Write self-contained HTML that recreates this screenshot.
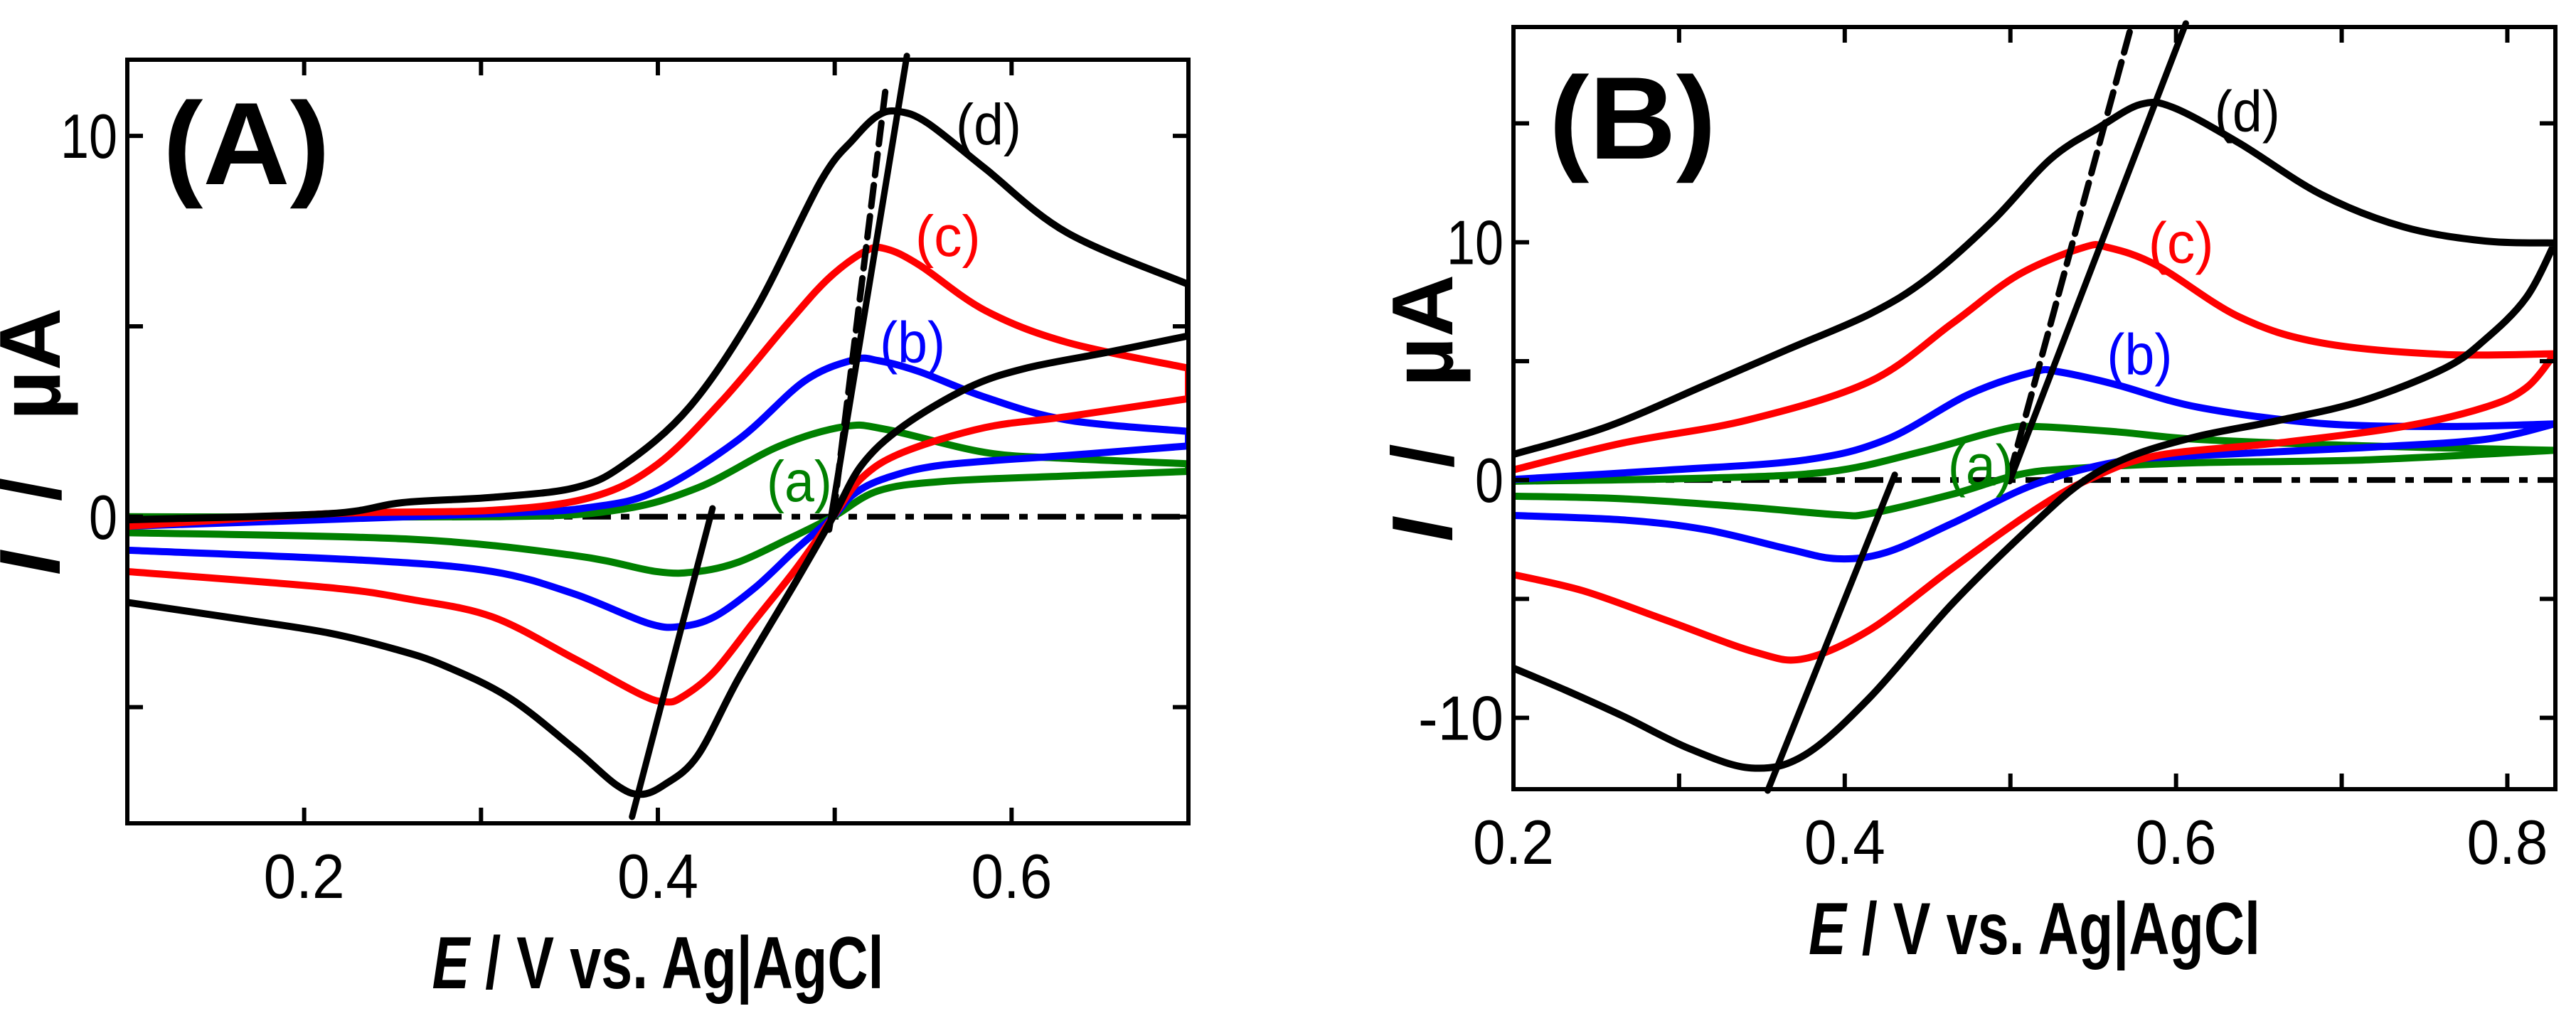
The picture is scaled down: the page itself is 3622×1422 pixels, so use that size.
<!DOCTYPE html>
<html><head><meta charset="utf-8">
<style>
html,body{margin:0;padding:0;background:#fff;}
svg{display:block;}
text{font-family:"Liberation Sans",Arial,sans-serif;}
</style></head>
<body>
<svg id="chart" width="3622" height="1422" viewBox="0 0 3622 1422" xmlns="http://www.w3.org/2000/svg"></svg>
<script>
// ---------- Panel A data ----------
const aD_fwdE=[0.1,0.2137,0.2554,0.3065,0.3529,0.3807,0.4179,0.455,0.4921,0.5107,0.5246,0.5362,0.5524,0.5849,0.6313,0.7];
const aD_fwdI=[-0.08,0.08,0.37,0.51,0.76,1.36,2.88,5.42,8.81,9.92,10.54,10.64,10.34,9.15,7.46,6.1];
const aD_revE=[0.7,0.6545,0.6081,0.5756,0.5385,0.5153,0.4991,0.4782,0.4457,0.4225,0.4039,0.39,0.3761,0.3529,0.3158,0.2787,0.2508,0.2137,0.1673,0.1];
const aD_revI=[4.75,4.32,3.9,3.39,2.37,1.36,0,-1.69,-4.24,-6.27,-7.03,-7.29,-7.03,-6.1,-4.75,-3.9,-3.47,-3.05,-2.71,-2.25];
const aC_fwdE=[0.1,0.2137,0.3065,0.3622,0.3993,0.4364,0.4735,0.4968,0.5176,0.5292,0.5478,0.5849,0.6313,0.7];
const aC_fwdI=[-0.25,0.08,0.17,0.51,1.36,3.05,5.08,6.27,6.98,7.03,6.61,5.42,4.58,3.9];
const aC_revE=[0.7,0.6313,0.5849,0.5385,0.5153,0.4991,0.4782,0.455,0.4318,0.4132,0.4039,0.39,0.3529,0.3065,0.2601,0.2137,0.1];
const aC_revI=[3.1,2.63,2.34,1.69,1.02,0,-1.36,-2.71,-4.07,-4.75,-4.86,-4.66,-3.73,-2.63,-2.17,-1.86,-1.44];
const aB_fwdE=[0.1,0.3065,0.3622,0.3993,0.4457,0.4828,0.5107,0.5246,0.5478,0.5849,0.6313,0.7];
const aB_fwdI=[-0.25,0.08,0.25,0.68,2.03,3.56,4.12,4.1,3.81,3.14,2.54,2.24];
const aB_revE=[0.7,0.6313,0.5617,0.5292,0.5107,0.4991,0.4782,0.455,0.4318,0.4132,0.3947,0.3529,0.3065,0.2369,0.1];
const aB_revI=[1.86,1.61,1.36,1.02,0.59,0,-0.85,-1.86,-2.63,-2.88,-2.8,-2.03,-1.44,-1.15,-0.88];
const aA_fwdE=[0.1,0.3065,0.3761,0.4225,0.4689,0.506,0.5292,0.5849,0.6313,0.7];
const aA_fwdI=[0,0,0.17,0.76,1.86,2.37,2.29,1.69,1.53,1.39];
const aA_revE=[0.7,0.6313,0.5617,0.5246,0.4991,0.4735,0.4457,0.4225,0.3993,0.3529,0.2601,0.1];
const aA_revI=[1.19,1.07,0.93,0.68,0,-0.59,-1.19,-1.44,-1.44,-1.02,-0.59,-0.42];
const aTanCathE=[0.3854,0.4309], aTanCathI=[-7.88,0.22];
const aTanAnoE=[0.4968,0.5408], aTanAnoI=[-0.34,12.1];
const aTanDashE=[0.4991,0.5292], aTanDashI=[0,11.4];
const aXTicks=[0.1,0.2,0.3,0.4,0.5,0.6,0.7];
const aXLabels=["0.2","0.4","0.6"], aXLabelVals=[0.2,0.4,0.6];
const aYTicks=[-5,0,5,10];
const aYLabels=["0","10"], aYLabelVals=[0,10];
const aCurveLabels=["(a)","(b)","(c)","(d)"];
const aCurveLabelE=[0.48,0.544,0.564,0.587], aCurveLabelI=[0.93,4.58,7.37,10.3];

// ---------- Panel B data ----------
const bD_fwdE=[0.2,0.2569,0.3163,0.3658,0.4153,0.45,0.4896,0.5243,0.554,0.5787,0.5985,0.6381,0.6876,0.7371,0.7866,0.8287];
const bD_fwdI=[1.08,2.25,4.01,5.5,6.99,8.48,10.92,13.5,14.85,15.8,15.66,14.17,12.01,10.65,10.05,9.97];
const bD_revE=[0.8287,0.8114,0.7866,0.7619,0.7124,0.6629,0.6134,0.5738,0.5441,0.5144,0.4649,0.4153,0.3757,0.3436,0.3064,0.2668,0.2322,0.2];
const bD_revI=[9.97,7.67,5.91,4.69,3.33,2.52,1.84,1.03,-0.05,-1.82,-5.2,-9.13,-11.57,-12.11,-11.3,-9.95,-8.86,-7.91];
const bC_fwdE=[0.2,0.2668,0.3411,0.4153,0.4649,0.5045,0.5441,0.5589,0.5886,0.6381,0.6876,0.7619,0.8287];
const bC_fwdI=[0.43,1.57,2.52,4.15,6.59,8.62,9.78,9.78,9.02,6.86,5.77,5.28,5.31];
const bC_revE=[0.8287,0.8114,0.7866,0.7371,0.6629,0.5886,0.549,0.5144,0.4649,0.4153,0.3757,0.346,0.2916,0.2421,0.2];
const bC_revI=[5.31,3.88,3.06,2.25,1.57,1.03,0.08,-1.27,-3.71,-6.29,-7.51,-7.24,-5.88,-4.66,-3.98];
const bB_fwdE=[0.2,0.2916,0.3757,0.4252,0.4748,0.5144,0.5292,0.5639,0.6134,0.6876,0.7619,0.8287];
const bB_fwdI=[0.03,0.41,0.84,1.71,3.6,4.55,4.55,4.01,3.06,2.38,2.25,2.36];
const bB_revE=[0.8287,0.7866,0.7124,0.6134,0.5639,0.5144,0.4649,0.4252,0.3955,0.3658,0.3163,0.2668,0.2];
const bB_revI=[2.36,1.71,1.36,1.03,0.76,-0.19,-1.82,-3.04,-3.31,-2.9,-2.09,-1.68,-1.49];
const bA_fwdE=[0.2,0.3163,0.3906,0.445,0.4946,0.5144,0.5639,0.6134,0.7124,0.8287];
const bA_fwdI=[-0.05,0.08,0.35,1.17,2.11,2.25,2.03,1.71,1.44,1.25];
const bA_revE=[0.8287,0.7124,0.6134,0.5391,0.5045,0.4649,0.4153,0.3955,0.3411,0.2668,0.2];
const bA_revI=[1.25,0.84,0.73,0.49,0.22,-0.6,-1.41,-1.46,-1.14,-0.79,-0.68];
const bTanCathE=[0.3535,0.4302], bTanCathI=[-13.06,0.22];
const bTanAnoE=[0.4995,0.6059], bTanAnoI=[-0.05,19.2];
const bTanDashE=[0.4995,0.5728], bTanDashI=[0.2,19.05];
const bXTicks=[0.2,0.3,0.4,0.5,0.6,0.7,0.8];
const bXLabels=["0.2","0.4","0.6","0.8"], bXLabelVals=[0.2,0.4,0.6,0.8];
const bYTicks=[-10,-5,0,5,10,15];
const bYLabels=["-10","0","10"], bYLabelVals=[-10,0,10];
const bCurveLabels=["(a)","(b)","(c)","(d)"];
const bCurveLabelE=[0.482,0.578,0.603,0.643], bCurveLabelI=[0.62,5.28,9.97,15.5];

const NS="http://www.w3.org/2000/svg";
const svg=document.getElementById('chart');
const COLORS=["#008000","#0000ff","#ff0000","#000000"];

function mk(tag,attrs,parent){const e=document.createElementNS(NS,tag);for(const k in attrs)e.setAttribute(k,attrs[k]);(parent||svg).appendChild(e);return e;}

function smooth(pts,first){
  let d=(first?'M':'L')+pts[0][0].toFixed(1)+' '+pts[0][1].toFixed(1);
  for(let i=0;i<pts.length-1;i++){
    const p0=pts[Math.max(0,i-1)],p1=pts[i],p2=pts[i+1],p3=pts[Math.min(pts.length-1,i+2)];
    const c1=[p1[0]+(p2[0]-p0[0])/6,p1[1]+(p2[1]-p0[1])/6];
    const c2=[p2[0]-(p3[0]-p1[0])/6,p2[1]-(p3[1]-p1[1])/6];
    d+=' C'+c1[0].toFixed(1)+' '+c1[1].toFixed(1)+' '+c2[0].toFixed(1)+' '+c2[1].toFixed(1)+' '+p2[0].toFixed(1)+' '+p2[1].toFixed(1);
  }
  return d;
}

function panel(cfg){
  const g=mk('g',{});
  
  
  const sx=v=>cfg.L+(v-cfg.x0)/(cfg.x1-cfg.x0)*(cfg.R-cfg.L);
  const sy=v=>cfg.B-(v-cfg.y0)/(cfg.y1-cfg.y0)*(cfg.B-cfg.T);
  const clipId='clip'+cfg.tag;
  const cp=mk('clipPath',{id:clipId},g);
  mk('rect',{x:cfg.L,y:cfg.T-40,width:cfg.R-cfg.L,height:cfg.B-cfg.T+40},cp);
  const plot=mk('g',{'clip-path':'url(#'+clipId+')'},g);
  const z=mk('line',{x1:sx(cfg.x0),x2:sx(cfg.x1),y1:sy(0),y2:sy(0),stroke:'#000','stroke-width':8,'stroke-dasharray':'40 14 12 14'},plot);
  
  
  const names=['a','b','c','d'];
  cfg.curves.forEach((c,i)=>{
    const f=c[0].map((e,k)=>[sx(e),sy(c[1][k])]);
    const r=c[2].map((e,k)=>[sx(e),sy(c[3][k])]);
    const d=smooth(f,true)+' '+smooth(r,false);
    const p=mk('path',{d:d,fill:'none',stroke:COLORS[i],'stroke-width':10,'stroke-linejoin':'round'},plot);
    
    
  });
  cfg.tans.forEach((t,i)=>{
    const l=mk('line',{x1:sx(t[0][0]),y1:sy(t[1][0]),x2:sx(t[0][1]),y2:sy(t[1][1]),stroke:'#000','stroke-width':9,'stroke-linecap':'round'},g);
    if(t[2]) l.setAttribute('stroke-dasharray','30 14');
    
    
  });
  const fr=mk('rect',{x:cfg.L,y:cfg.T,width:cfg.R-cfg.L,height:cfg.B-cfg.T,fill:'none',stroke:'#000','stroke-width':6},g);
  
  
  cfg.xt.forEach(v=>{
    const t1=mk('line',{x1:sx(v),x2:sx(v),y1:cfg.B,y2:cfg.B-22,stroke:'#000','stroke-width':6},g);
    
    
    const t2=mk('line',{x1:sx(v),x2:sx(v),y1:cfg.T,y2:cfg.T+22,stroke:'#000','stroke-width':6},g);
    
    
  });
  cfg.yt.forEach(v=>{
    const t1=mk('line',{x1:cfg.L,x2:cfg.L+22,y1:sy(v),y2:sy(v),stroke:'#000','stroke-width':6},g);
    
    
    const t2=mk('line',{x1:cfg.R,x2:cfg.R-22,y1:sy(v),y2:sy(v),stroke:'#000','stroke-width':6},g);
    
    
  });
  cfg.xl.forEach((s,i)=>{
    const t=mk('text',{x:sx(cfg.xlv[i]),y:cfg.B+105,'font-size':88,'text-anchor':'middle',textLength:s.length*38,lengthAdjust:'spacingAndGlyphs'},g);
    t.textContent=s;
    
    
  });
  cfg.yl.forEach((s,i)=>{
    const t=mk('text',{x:cfg.L-14,y:sy(cfg.ylv[i])+31,'font-size':88,'text-anchor':'end',textLength:s.length*40,lengthAdjust:'spacingAndGlyphs'},g);
    t.textContent=s;
    
    
  });
  cfg.cl.forEach((s,i)=>{
    const t=mk('text',{x:sx(cfg.clE[i]),y:sy(cfg.clI[i])+28,'font-size':82,'text-anchor':'middle',fill:COLORS[i],textLength:92,lengthAdjust:'spacingAndGlyphs'},g);
    t.textContent=s;
    
    
  });
  const pl=mk('text',{x:cfg.L+50,y:cfg.T+cfg.plY,'font-size':165,'font-weight':'bold',textLength:235,lengthAdjust:'spacingAndGlyphs'},g);
  pl.textContent=cfg.panelLabel;
  
  
  const xt=mk('text',{x:(cfg.L+cfg.R)/2,y:cfg.B+232,'font-size':104,'font-weight':'bold','text-anchor':'middle',textLength:635,lengthAdjust:'spacingAndGlyphs'},g);
  xt.innerHTML='<tspan font-style="italic">E</tspan> / V vs. Ag|AgCl';
  
  
  const yc=(cfg.T+cfg.B)/2;
  const yt=mk('text',{x:cfg.ytX,y:yc,'font-size':122,'font-weight':'bold','text-anchor':'middle',transform:'rotate(-90 '+cfg.ytX+' '+yc+')'},g);
  yt.innerHTML='<tspan font-style="italic">I</tspan><tspan dx="70">/</tspan><tspan dx="80">µA</tspan>';
  
  
}

panel({name:'panel-a',tag:'A',L:179,R:1671,T:84,B:1158,x0:0.1,x1:0.7,y0:-8.05,y1:12.0,
  curves:[[aA_fwdE,aA_fwdI,aA_revE,aA_revI],[aB_fwdE,aB_fwdI,aB_revE,aB_revI],[aC_fwdE,aC_fwdI,aC_revE,aC_revI],[aD_fwdE,aD_fwdI,aD_revE,aD_revI]],
  tans:[[aTanCathE,aTanCathI,false],[aTanAnoE,aTanAnoI,false],[aTanDashE,aTanDashI,true]],
  xt:aXTicks,xl:aXLabels,xlv:aXLabelVals,yt:aYTicks,yl:aYLabels,ylv:aYLabelVals,
  cl:aCurveLabels,clE:aCurveLabelE,clI:aCurveLabelI,panelLabel:'(A)',plY:175,ytX:84});
panel({name:'panel-b',tag:'B',L:2128,R:3593,T:38,B:1110,x0:0.2,x1:0.829,y0:-13.0,y1:19.05,
  curves:[[bA_fwdE,bA_fwdI,bA_revE,bA_revI],[bB_fwdE,bB_fwdI,bB_revE,bB_revI],[bC_fwdE,bC_fwdI,bC_revE,bC_revI],[bD_fwdE,bD_fwdI,bD_revE,bD_revI]],
  tans:[[bTanCathE,bTanCathI,false],[bTanAnoE,bTanAnoI,false],[bTanDashE,bTanDashI,true]],
  xt:bXTicks,xl:bXLabels,xlv:bXLabelVals,yt:bYTicks,yl:bYLabels,ylv:bYLabelVals,
  cl:bCurveLabels,clE:bCurveLabelE,clI:bCurveLabelI,panelLabel:'(B)',plY:185,ytX:2042});
</script>
</body></html>
